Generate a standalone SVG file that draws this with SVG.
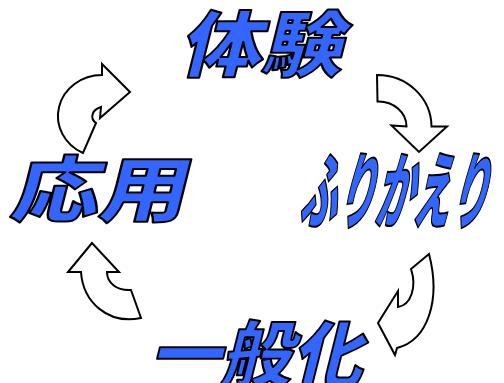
<svg xmlns="http://www.w3.org/2000/svg" width="504" height="383" viewBox="0 0 504 383">
<style>
.t{font-family:"Noto Sans CJK JP","Noto Sans CJK SC",sans-serif;font-weight:900;fill:#3366ff;stroke:#000;stroke-width:2;stroke-linejoin:round}
.a{fill:#fff;stroke:#000;stroke-width:2;stroke-linejoin:miter}
</style>
<rect width="504" height="383" fill="#fff"/>
<g id="node-taiken"><text class="t" transform="translate(179,71) skewX(-14)" font-size="72" textLength="163" lengthAdjust="spacingAndGlyphs">体験</text></g>
<g id="node-furikaeri"><text class="t" transform="translate(298,222) skewX(-14)" font-size="84" textLength="188" lengthAdjust="spacingAndGlyphs">ふりかえり</text></g>
<g id="node-ippanka"><text class="t" transform="translate(149,381) skewX(-14)" font-size="72" textLength="213" lengthAdjust="spacingAndGlyphs">一般化</text></g>
<g id="node-ouyou"><text class="t" transform="translate(9,216) skewX(-14)" font-size="72" textLength="176" lengthAdjust="spacingAndGlyphs">応用</text></g>
<g id="connectors">
<path class="a" d="M377,75 A54,52 0 0 1 431.5,126.5 L447,126.5 L419,152 L391.5,125.5 L406.5,126.5 A28,25 0 0 0 377.5,101.5 Z"/>
<path class="a" d="M429,254 L411,269 C417,287 411,305 398,307 L398,291 L378,323 L395,355 L397,348 C428,340 441,300 429,254 Z"/>
<path class="a" d="M92,243 L68,272 L81,272 C83,302 108,325 141,318 L131,290 C117,291 107,283 107,272 L119,272 Z"/>
<path class="a" d="M130,92 L102,64 L102,75 A44,41 0 0 0 83,153 L96,123 C90,119 91,110 101,107 L100,118 Z"/>
</g>
</svg>
